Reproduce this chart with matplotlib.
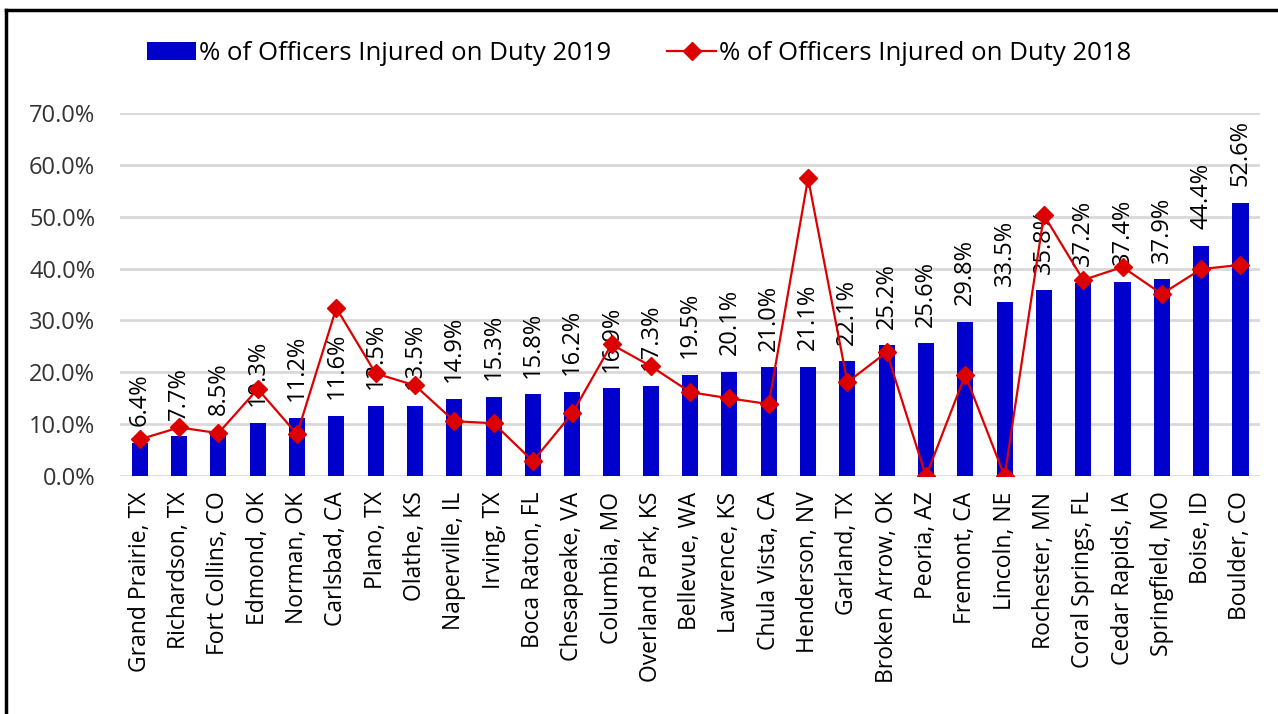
import matplotlib

matplotlib.use("Agg")

import matplotlib.pyplot as plt
import numpy as np
from matplotlib.lines import Line2D
from matplotlib.ticker import FuncFormatter

cities = [
    "Grand Prairie, TX", "Richardson, TX", "Fort Collins, CO", "Edmond, OK",
    "Norman, OK", "Carlsbad, CA", "Plano, TX", "Olathe, KS", "Naperville, IL",
    "Irving, TX", "Boca Raton, FL", "Chesapeake, VA", "Columbia, MO",
    "Overland Park, KS", "Bellevue, WA", "Lawrence, KS", "Chula Vista, CA",
    "Henderson, NV", "Garland, TX", "Broken Arrow, OK", "Peoria, AZ",
    "Fremont, CA", "Lincoln, NE", "Rochester, MN", "Coral Springs, FL",
    "Cedar Rapids, IA", "Springfield, MO", "Boise, ID", "Boulder, CO",
]
injured_2019 = [
    6.4, 7.7, 8.5, 10.3, 11.2, 11.6, 13.5, 13.5, 14.9, 15.3, 15.8, 16.2, 16.9,
    17.3, 19.5, 20.1, 21.0, 21.1, 22.1, 25.2, 25.6, 29.8, 33.5, 35.8, 37.2,
    37.4, 37.9, 44.4, 52.6,
]
injured_2018 = [
    7.1, 9.4, 8.3, 16.8, 8.1, 32.4, 19.8, 17.5, 10.6, 10.2, 2.9, 12.1, 25.4,
    21.2, 16.2, 15.0, 13.9, 57.4, 18.1, 23.9, 0.0, 19.5, 0.0, 50.3, 37.8,
    40.3, 35.1, 39.9, 40.7,
]

plt.rcParams["font.family"] = ["Open Sans", "DejaVu Sans"]

fig = plt.figure(figsize=(12.78, 7.14), dpi=100)
ax = fig.add_axes([0.094, 0.333, 0.892, 0.509])

x = np.arange(len(cities))
bars = ax.bar(x, injured_2019, width=0.41, color="#0000CC", zorder=2,
              label="% of Officers Injured on Duty 2019")
line, = ax.plot(x, injured_2018, color="#DD0000", linewidth=1.6, marker="D",
                markersize=9, zorder=4, label="% of Officers Injured on Duty 2018")

for xi, v in zip(x, injured_2019):
    ax.annotate(f"{v:.1f}%", (xi, v), xytext=(0, 12), textcoords="offset points",
                rotation=90, ha="center", va="bottom", fontsize=17, color="black",
                zorder=3)

ax.set_xlim(-0.5, len(cities) - 0.5)
ax.set_ylim(0, 70)
ax.set_yticks(np.arange(0, 71, 10))
ax.yaxis.set_major_formatter(FuncFormatter(lambda v, _: f"{v:.1f}%"))
ax.set_xticks(x)
ax.set_xticklabels(cities, rotation=90, fontsize=16.5)
ax.tick_params(axis="y", labelsize=17, length=0, pad=18, labelcolor="#333333")
ax.tick_params(axis="x", length=0, pad=11)
ax.grid(axis="y", color="#d9d9d9", linewidth=2, zorder=0)
for spine in ax.spines.values():
    spine.set_visible(False)

fig.legend([bars, line], [bars.get_label(), line.get_label()],
           loc="center", bbox_to_anchor=(0.5, 0.925), ncol=2, frameon=False,
           fontsize=18.5, handlelength=1.9, handletextpad=0.1, columnspacing=2.2)

# outer frame: only top and left edges are visible in the crop
fig.add_artist(Line2D([0.005, 0.005], [0.0, 0.986], transform=fig.transFigure,
                      color="black", linewidth=2.5))
fig.add_artist(Line2D([0.005, 1.0], [0.986, 0.986], transform=fig.transFigure,
                      color="black", linewidth=2.5))

fig.savefig("out.png", dpi=100)
plt.close(fig)
